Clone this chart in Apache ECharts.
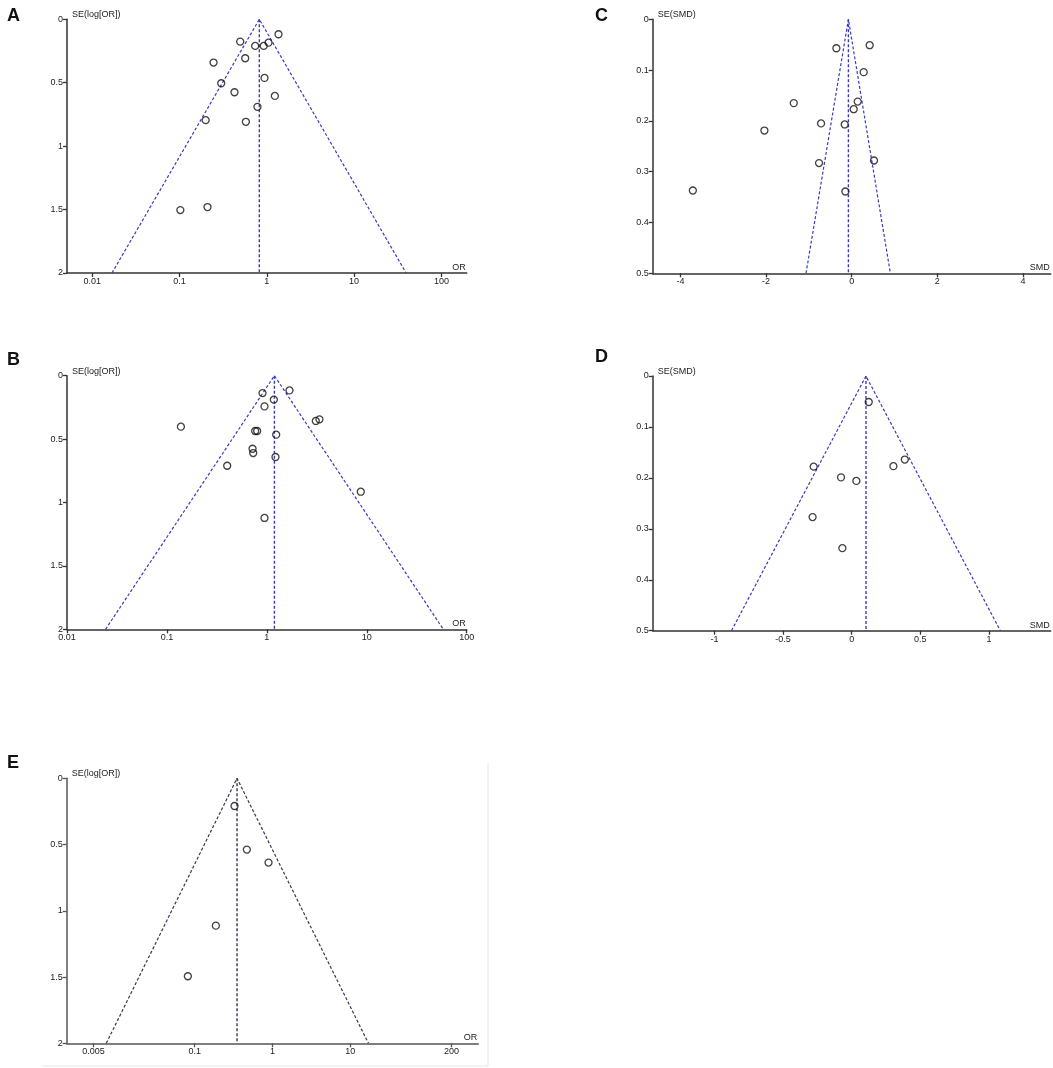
<!DOCTYPE html>
<html>
<head>
<meta charset="utf-8">
<script src="https://cdn.jsdelivr.net/npm/echarts@6/dist/echarts.min.js"></script>
<style>
html,body{margin:0;padding:0;background:#fff;}
#chart{width:1053px;height:1068px;}
</style>
</head>
<body>
<div id="chart"></div>
<script>
// ---------- DATA ----------
// Panel A: OR and SE(log[OR])
const orA = [1.36, 0.495, 0.735, 0.92, 1.045, 0.245, 0.565, 0.94, 0.30, 0.426, 1.235, 0.78, 0.199, 0.575, 0.102, 0.209];
const seA = [0.118, 0.176, 0.21, 0.21, 0.184, 0.341, 0.307, 0.462, 0.504, 0.575, 0.604, 0.69, 0.795, 0.808, 1.504, 1.48];
// funnel: pooled OR, lower limit at base, upper limit at base
const funnelA = [0.82, 0.0168, 39.4];

// Panel B
const orB = [0.905, 1.685, 1.175, 0.947, 0.138, 3.09, 3.36, 0.764, 0.80, 1.24, 0.719, 0.73, 1.22, 0.401, 8.71, 0.947];
const seB = [0.137, 0.116, 0.189, 0.242, 0.402, 0.357, 0.344, 0.436, 0.436, 0.465, 0.576, 0.61, 0.641, 0.71, 0.915, 1.122];
const funnelB = [1.19, 0.0243, 58.3];

// Panel C: SMD and SE(SMD)
const smdC = [-0.358, 0.42, 0.28, -1.354, 0.14, 0.047, -0.716, -0.163, -2.04, -0.763, 0.521, -3.712, -0.148];
const seC = [0.057, 0.051, 0.104, 0.165, 0.162, 0.177, 0.205, 0.207, 0.219, 0.283, 0.278, 0.337, 0.339];
const funnelC = [-0.077, -1.067, 0.904];

// Panel D
const smdD = [0.124, 0.387, 0.304, -0.277, -0.078, 0.034, -0.285, -0.068];
const seD = [0.051, 0.164, 0.177, 0.178, 0.199, 0.206, 0.277, 0.338];
const funnelD = [0.104, -0.876, 1.083];

// Panel E
const orE = [0.325, 0.468, 0.889, 0.187, 0.0817];
const seE = [0.209, 0.538, 0.636, 1.112, 1.494];
const funnelE = [0.35, 0.0073, 17.1];

// tick labels
const orTicksAB = [0.01, 0.1, 1, 10, 100];
const orTicksE = [0.005, 0.1, 1, 10, 200];
const smdTicksC = [-4, -2, 0, 2, 4];
const smdTicksD = [-1, -0.5, 0, 0.5, 1];
const seTicksOR = [0, 0.5, 1, 1.5, 2];
const seTicksSMD = [0, 0.1, 0.2, 0.3, 0.4, 0.5];

const panelLetters = ['A', 'B', 'C', 'D', 'E'];

// ---------- BUILD ----------
const FONT = 'Liberation Sans, Arial, sans-serif';
const lg = Math.log10;

const panels = [
  {grid:{left:67, top:19.3, width:399.7, height:253.7}, xr:[-2.29,2.29], log:true, ticks:orTicksAB, xs:orA, ys:seA, f:funnelA, ymax:2, yticks:seTicksOR, yname:'SE(log[OR])', xname:'OR', col:'#3a3ac0', axc:'#333'},
  {grid:{left:67, top:375.7, width:399.7, height:253.6}, xr:[-2,2], log:true, ticks:orTicksAB, xs:orB, ys:seB, f:funnelB, ymax:2, yticks:seTicksOR, yname:'SE(log[OR])', xname:'OR', col:'#3a3ac0', axc:'#333'},
  {grid:{left:652.7, top:19.3, width:398, height:254}, xr:[-4.65,4.65], log:false, ticks:smdTicksC, xs:smdC, ys:seC, f:funnelC, ymax:0.5, yticks:seTicksSMD, yname:'SE(SMD)', xname:'SMD', col:'#3a3ac0', axc:'#333'},
  {grid:{left:652.7, top:376, width:398, height:254.7}, xr:[-1.45,1.45], log:false, ticks:smdTicksD, xs:smdD, ys:seD, f:funnelD, ymax:0.5, yticks:seTicksSMD, yname:'SE(SMD)', xname:'SMD', col:'#3a3ac0', axc:'#333'},
  {grid:{left:66.7, top:778.3, width:411.6, height:265}, xr:[-2.645,2.645], log:true, ticks:orTicksE, xs:orE, ys:seE, f:funnelE, ymax:2, yticks:seTicksOR, yname:'SE(log[OR])', xname:'OR', col:'#34384f', axc:'#555'}
];

const grids = [], xAxes = [], yAxes = [], series = [];
panels.forEach((p, i) => {
  const tx = v => p.log ? lg(v) : v;
  grids.push(Object.assign({containLabel:false}, p.grid));
  const tickVals = p.ticks.map(tx);
  xAxes.push({
    gridIndex:i, type:'value', min:p.xr[0], max:p.xr[1], position:'bottom',
    axisLine:{onZero:false, lineStyle:{color:p.axc, width:1.5}},
    axisTick:{show:true, length:4, customValues:tickVals, lineStyle:{color:p.axc, width:1.3}},
    axisLabel:{customValues:tickVals, margin:4, fontSize:9, fontFamily:FONT, color:'#222',
      formatter: v => { const k = tickVals.findIndex(t => Math.abs(t - v) < 1e-6); return k >= 0 ? String(p.ticks[k]) : ''; }},
    splitLine:{show:false},
    name:p.xname, nameLocation:'end', nameGap:-1,
    nameTextStyle:{fontSize:9, fontFamily:FONT, color:'#222', align:'right', verticalAlign:'bottom', padding:[0,0,1,0]}
  });
  yAxes.push({
    gridIndex:i, type:'value', inverse:true, min:0, max:p.ymax, interval:p.yticks[1], position:'left',
    axisLine:{show:true, onZero:false, lineStyle:{color:p.axc, width:1.5}},
    axisTick:{show:true, length:4, lineStyle:{color:p.axc, width:1.3}},
    axisLabel:{margin:4, fontSize:9, fontFamily:FONT, color:'#222',
      formatter: v => String(Math.round(v*10)/10)},
    splitLine:{show:false},
    name:p.yname, nameLocation:'start', nameGap:0,
    nameTextStyle:{fontSize:9, fontFamily:FONT, color:'#222', align:'left', verticalAlign:'bottom', padding:[0,0,0,5]}
  });
  const c = tx(p.f[0]), lo = tx(p.f[1]), hi = tx(p.f[2]);
  const dash = {color:p.col, width:1.2, type:[3,2]};
  series.push({type:'line', xAxisIndex:i, yAxisIndex:i, data:[[lo,p.ymax],[c,0],[hi,p.ymax]], symbol:'none', lineStyle:dash, silent:true, z:2, animation:false});
  series.push({type:'line', xAxisIndex:i, yAxisIndex:i, data:[[c,0],[c,p.ymax]], symbol:'none', lineStyle:Object.assign({}, dash, {width:1.4}), silent:true, z:2, animation:false});
  series.push({type:'scatter', xAxisIndex:i, yAxisIndex:i, data:p.xs.map((x,k)=>[tx(x), p.ys[k]]), symbol:'circle', symbolSize:7,
    itemStyle:{color:'rgba(255,255,255,0)', borderColor:'#111', borderWidth:1.3}, z:5, animation:false});
});

const letterPos = [[7,16.5],[7,360],[595,16.5],[595,357],[7,763.5]];
const graphics = panelLetters.map((t,i)=>({type:'text', left:letterPos[i][0], top:letterPos[i][1]-9,
  style:{text:t, font:'bold 18px ' + FONT, fill:'#111'}}));
graphics.push({type:'polyline', shape:{points:[[43,1066],[488,1066],[488,763]]}, style:{stroke:'#e6e6e6', lineWidth:1, fill:null}, silent:true});

const chart = echarts.init(document.getElementById('chart'), null, {renderer:'canvas'});
chart.setOption({
  animation:false,
  backgroundColor:'#fff',
  grid:grids, xAxis:xAxes, yAxis:yAxes, series:series, graphic:graphics
});
</script>
</body>
</html>
